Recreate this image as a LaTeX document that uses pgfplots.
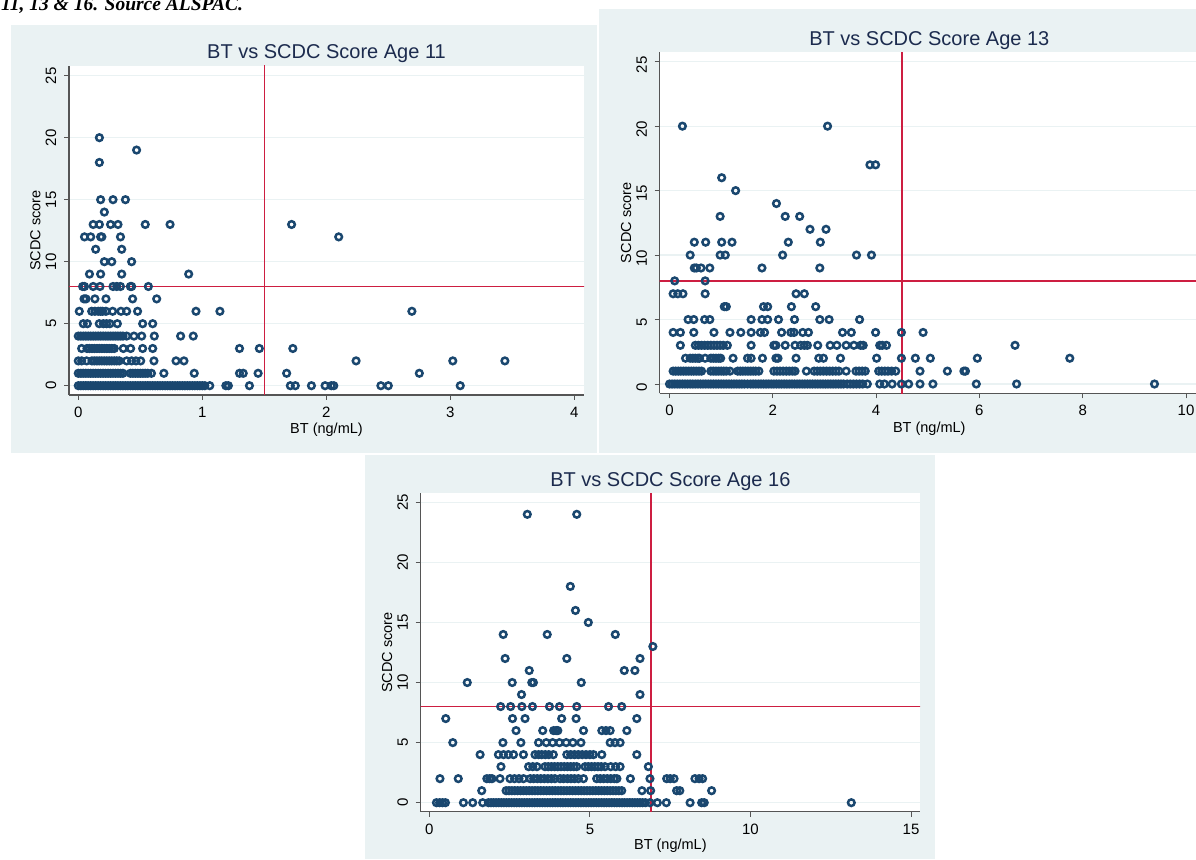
\documentclass[border=0pt]{standalone}
\usepackage{pgfplots}
\pgfplotsset{compat=1.18}
\usepackage{fontspec}
\setmainfont{Liberation Sans}
\newfontfamily\capserif{Liberation Serif}
\definecolor{bgc}{RGB}{234,242,243}
\definecolor{gridc}{RGB}{234,242,243}
\definecolor{navy}{RGB}{26,71,111}
\definecolor{ttl}{RGB}{28,43,78}
\definecolor{refred}{RGB}{205,30,65}
\definecolor{axc}{RGB}{85,85,85}
\newcommand\tickfont{\fontsize{15}{18}\selectfont}
\newcommand\labelfont{\fontsize{14.5}{17}\selectfont}
\newcommand\titlefont{\fontsize{20}{24}\selectfont}
\pgfplotsset{
  stata/.style={
    scale only axis, anchor=south west,
    axis lines*=left,
    axis line style={draw=axc, line width=1.2pt},
    axis background/.style={fill=white},
    tick align=outside, major tick length=5pt,
    tick style={draw=axc, line width=1pt},
    ytick={0,5,10,15,20,25},
    ymajorgrids, grid style={draw=gridc, line width=1.2pt},
    /pgf/number format/assume math mode=true,
    yticklabel style={xshift=-7.5pt, rotate=90, anchor=south, font=\tickfont, inner sep=0pt},
    xticklabel style={yshift=-7pt, anchor=north, font=\tickfont, inner sep=0pt},
    every axis title/.style={font=\titlefont, color=ttl, at={(axis description cs:0.5,1)}, anchor=base, yshift=7pt},
    xlabel={BT (ng/mL)}, ylabel={SCDC score},
    every axis x label/.style={at={(axis description cs:0.5,0)}, anchor=base, yshift=-39pt, font=\labelfont},
    every axis y label/.style={at={([xshift=-33.5pt]axis description cs:0,0.5)}, rotate=90, anchor=center, font=\labelfont},
    clip=true,
  },
  pts/.style={only marks, mark=o, mark size=3.3pt, mark options={draw=navy, line width=2.5pt}},
  refl/.style={draw=refred, line width=1.3pt, forget plot},
}
\begin{document}
\begin{tikzpicture}[x=1pt,y=1pt]
\useasboundingbox (0,0) rectangle (1196,859);
\clip (0,0) rectangle (1196,859);
\fill[bgc] (11,406) rectangle (597,834);
\fill[bgc] (599,406) rectangle (1200,849.7);
\fill[bgc] (365,0) rectangle (935,404);
\node[anchor=base west, inner sep=0pt, font=\capserif\bfseries\itshape\fontsize{19.5}{22}\selectfont] at (1,848) {11, 13 \& 16. Source ALSPAC.};

% ---------------- Age 11 ----------------
\begin{axis}[stata, at={(69pt,464pt)}, width=515pt, height=329pt,
  xmin=-0.075, xmax=4.078, ymin=-0.75, ymax=25.78, xtick={0,1,2,3,4},
  title={BT vs SCDC Score Age 11}]
\addplot[refl] coordinates {(1.5,-2) (1.5,30)};
\addplot[refl] coordinates {(-1,8) (5,8)};
\addplot[pts] coordinates {
(0.17,20) (0.47,19) (0.17,18)
(0.18,15) (0.28,15) (0.38,15) (0.21,14)
(0.12,13) (0.17,13) (0.26,13) (0.32,13) (0.54,13) (0.74,13) (1.72,13)
(0.05,12) (0.10,12) (0.18,12) (0.19,12) (0.34,12) (2.10,12)
(0.14,11) (0.35,11)
(0.21,10) (0.27,10) (0.43,10)
(0.09,9) (0.18,9) (0.35,9) (0.89,9)
(0.035,8) (0.05,8) (0.12,8) (0.175,8) (0.28,8) (0.31,8) (0.34,8) (0.42,8) (0.43,8) (0.565,8)
(0.046,7) (0.062,7) (0.134,7) (0.223,7) (0.438,7) (0.632,7)
(0.008,6) (0.108,6) (0.134,6) (0.161,6) (0.18,6) (0.196,6) (0.223,6) (0.277,6) (0.344,6) (0.39,6) (0.478,6) (0.949,6) (1.142,6) (2.69,6)
(0.04,5) (0.073,5) (0.169,5) (0.202,5) (0.228,5) (0.255,5) (0.315,5) (0.519,5) (0.60,5)
(0,4) (0.02,4) (0.04,4) (0.06,4) (0.08,4) (0.10,4) (0.12,4) (0.14,4) (0.16,4) (0.18,4) (0.20,4) (0.22,4) (0.24,4) (0.26,4) (0.28,4) (0.30,4) (0.32,4) (0.34,4) (0.36,4) (0.39,4) (0.449,4) (0.511,4) (0.613,4) (0.825,4) (0.927,4)
(0.027,3) (0.07,3) (0.09,3) (0.11,3) (0.13,3) (0.15,3) (0.17,3) (0.19,3) (0.21,3) (0.23,3) (0.25,3) (0.27,3) (0.29,3) (0.363,3) (0.422,3) (0.519,3) (0.60,3) (1.30,3) (1.46,3) (1.73,3)
(0,2) (0.027,2) (0.067,2) (0.11,2) (0.13,2) (0.15,2) (0.17,2) (0.19,2) (0.21,2) (0.23,2) (0.25,2) (0.27,2) (0.29,2) (0.31,2) (0.33,2) (0.39,2) (0.43,2) (0.465,2) (0.503,2) (0.61,2) (0.788,2) (0.852,2) (2.24,2) (3.02,2) (3.44,2)
(0,1) (0.02,1) (0.04,1) (0.06,1) (0.08,1) (0.10,1) (0.12,1) (0.14,1) (0.16,1) (0.18,1) (0.20,1) (0.22,1) (0.24,1) (0.26,1) (0.28,1) (0.30,1) (0.32,1) (0.34,1) (0.36,1)
(0.42,1) (0.44,1) (0.46,1) (0.48,1) (0.50,1) (0.52,1) (0.54,1) (0.56,1) (0.59,1) (0.69,1) (0.935,1) (1.30,1) (1.33,1) (1.45,1) (1.68,1) (2.75,1)
(0,0) (0.02,0) (0.04,0) (0.06,0) (0.08,0) (0.10,0) (0.12,0) (0.14,0) (0.16,0) (0.18,0) (0.20,0) (0.22,0) (0.24,0) (0.26,0) (0.28,0) (0.30,0) (0.32,0) (0.34,0) (0.36,0) (0.38,0)
(0.40,0) (0.42,0) (0.44,0) (0.46,0) (0.48,0) (0.50,0) (0.52,0) (0.54,0) (0.56,0) (0.58,0) (0.60,0) (0.62,0) (0.64,0) (0.66,0) (0.68,0) (0.70,0) (0.72,0) (0.74,0) (0.76,0) (0.78,0)
(0.80,0) (0.82,0) (0.84,0) (0.86,0) (0.88,0) (0.90,0) (0.92,0) (0.94,0) (0.96,0) (0.98,0) (1.00,0) (1.02,0)
(1.06,0) (1.19,0) (1.21,0) (1.38,0) (1.71,0) (1.75,0) (1.88,0) (1.99,0) (2.04,0) (2.06,0) (2.44,0) (2.50,0) (3.08,0)
};
\end{axis}

% ---------------- Age 13 ----------------
\begin{axis}[stata, at={(659.7pt,465.7pt)}, width=539.2pt, height=341pt,
  xmin=-0.19, xmax=10.25, ymin=-0.72, ymax=25.73, xtick={0,2,4,6,8,10},
  title={BT vs SCDC Score Age 13},
  every axis x label/.append style={yshift=-0.5pt},
  yticklabel style={xshift=-3pt}]
\addplot[refl] coordinates {(4.5,-2) (4.5,30)};
\addplot[refl] coordinates {(-1,8) (12,8)};
\addplot[pts] coordinates {
(0.25,20) (3.06,20) (3.88,17) (3.99,17) (1.01,16) (1.28,15) (2.07,14)
(0.98,13) (2.24,13) (2.52,13) (2.72,12) (3.03,12)
(0.48,11) (0.70,11) (1.01,11) (1.21,11) (2.30,11) (2.92,11)
(0.40,10) (0.98,10) (1.08,10) (2.19,10) (3.62,10) (3.91,10)
(0.48,9) (0.52,9) (0.61,9) (0.78,9) (1.79,9) (2.91,9)
(0.10,8) (0.69,8)
(0.07,7) (0.16,7) (0.26,7) (0.69,7) (2.45,7) (2.61,7)
(1.06,6) (1.10,6) (1.82,6) (1.90,6) (2.36,6) (2.83,6)
(0.36,5) (0.47,5) (0.68,5) (0.78,5) (1.58,5) (1.79,5) (1.90,5) (2.11,5) (2.42,5) (2.91,5) (3.09,5) (3.68,5)
(0.07,4) (0.21,4) (0.47,4) (0.86,4) (1.17,4) (1.38,4) (1.58,4) (1.76,4) (1.84,4) (2.17,4) (2.35,4) (2.41,4) (2.58,4) (2.69,4) (3.35,4) (3.52,4) (3.99,4) (4.49,4) (4.91,4)
(0.21,3) (0.50,3) (0.56,3) (0.62,3) (0.68,3) (0.74,3) (0.80,3) (0.86,3) (0.92,3) (0.98,3) (1.04,3) (1.12,3) (1.58,3) (2.02,3) (2.06,3) (2.24,3) (2.43,3) (2.54,3) (2.61,3) (2.67,3) (2.87,3) (3.11,3) (3.24,3) (3.42,3) (3.57,3) (3.70,3) (3.75,3) (4.07,3) (4.12,3) (4.20,3) (6.69,3)
(0.31,2) (0.40,2) (0.45,2) (0.50,2) (0.55,2) (0.58,2) (0.69,2) (0.80,2) (0.85,2) (0.90,2) (0.95,2) (0.99,2) (1.23,2) (1.51,2) (1.58,2) (1.80,2) (2.06,2) (2.10,2) (2.45,2) (2.89,2) (2.98,2) (3.31,2) (4.01,2) (4.49,2) (4.76,2) (5.05,2) (5.96,2) (7.75,2)
(0.07,1) (0.12,1) (0.17,1) (0.22,1) (0.27,1) (0.32,1) (0.37,1) (0.42,1) (0.47,1) (0.52,1) (0.57,1) (0.62,1)
(0.80,1) (0.85,1) (0.90,1) (0.95,1) (1.00,1) (1.05,1) (1.10,1) (1.17,1)
(1.32,1) (1.37,1) (1.42,1) (1.47,1) (1.52,1) (1.57,1) (1.62,1) (1.67,1) (1.73,1)
(2.02,1) (2.08,1) (2.14,1) (2.20,1) (2.26,1) (2.32,1) (2.38,1) (2.43,1) (2.65,1)
(2.80,1) (2.86,1) (2.92,1) (2.98,1) (3.04,1) (3.10,1) (3.16,1) (3.22,1) (3.28,1) (3.42,1)
(3.61,1) (3.67,1) (3.73,1) (3.79,1) (4.05,1) (4.11,1) (4.17,1) (4.23,1) (4.30,1) (4.38,1) (4.85,1) (5.38,1) (5.70,1) (5.73,1)
(0,0) (0.05,0) (0.10,0) (0.15,0) (0.20,0) (0.25,0) (0.30,0) (0.35,0) (0.40,0) (0.45,0) (0.50,0) (0.55,0) (0.60,0) (0.65,0) (0.70,0) (0.75,0) (0.80,0) (0.85,0) (0.90,0) (0.95,0)
(1.00,0) (1.05,0) (1.10,0) (1.15,0) (1.20,0) (1.25,0) (1.30,0) (1.35,0) (1.40,0) (1.45,0) (1.51,0) (1.57,0) (1.62,0) (1.67,0) (1.72,0) (1.77,0) (1.82,0) (1.87,0) (1.92,0) (1.97,0)
(2.02,0) (2.07,0) (2.12,0) (2.17,0) (2.22,0) (2.27,0) (2.32,0) (2.37,0) (2.42,0) (2.47,0) (2.52,0) (2.57,0) (2.62,0) (2.67,0) (2.72,0) (2.77,0) (2.82,0) (2.87,0) (2.92,0) (2.97,0)
(3.02,0) (3.07,0) (3.12,0) (3.17,0) (3.22,0) (3.27,0) (3.32,0) (3.37,0) (3.44,0) (3.50,0) (3.56,0) (3.62,0) (3.68,0) (3.74,0) (3.83,0)
(4.07,0) (4.16,0) (4.31,0) (4.49,0) (4.63,0) (4.85,0) (5.10,0) (5.94,0) (6.72,0) (9.39,0)
};
\end{axis}

% ---------------- Age 16 ----------------
\begin{axis}[stata, at={(420.7pt,47.3pt)}, width=499.3pt, height=318.4pt,
  xmin=-0.27, xmax=15.28, ymin=-0.75, ymax=25.75, xtick={0,5,10,15},
  title={BT vs SCDC Score Age 16},
  every axis x label/.append style={yshift=1.5pt}]
\addplot[refl] coordinates {(6.9,-2) (6.9,30)};
\addplot[refl] coordinates {(-1,8) (16,8)};
\addplot[pts] coordinates {
(3.05,24) (4.59,24) (4.39,18) (4.55,16) (4.95,15)
(2.30,14) (3.67,14) (5.79,14) (6.96,13)
(2.36,12) (4.28,12) (6.56,12) (3.11,11) (6.07,11) (6.40,11)
(1.18,10) (2.58,10) (3.19,10) (3.24,10) (4.73,10) (2.87,9) (6.56,9)
(2.22,8) (2.53,8) (2.88,8) (3.21,8) (3.74,8) (4.05,8) (4.59,8) (5.58,8) (5.99,8)
(0.51,7) (2.59,7) (2.98,7) (4.12,7) (4.57,7) (6.46,7)
(2.70,6) (3.53,6) (3.87,6) (3.95,6) (4.00,6) (4.80,6) (5.37,6) (5.50,6) (5.63,6) (6.15,6)
(0.73,5) (2.29,5) (2.85,5) (3.40,5) (3.64,5) (3.84,5) (4.05,5) (4.26,5) (4.47,5) (4.72,5) (5.63,5) (5.78,5) (5.94,5)
(1.58,4) (2.15,4) (2.31,4) (2.46,4) (2.62,4) (2.93,4) (3.29,4) (3.40,4) (3.50,4) (3.61,4) (3.72,4) (3.86,4) (4.28,4) (4.40,4) (4.52,4) (4.64,4) (4.76,4) (4.88,4) (5.00,4) (5.11,4) (5.37,4) (6.46,4)
(2.23,3) (3.09,3) (3.22,3) (3.35,3) (3.60,3) (3.70,3) (3.80,3) (3.90,3) (4.00,3) (4.10,3) (4.20,3) (4.30,3) (4.40,3) (4.50,3) (4.59,3) (4.85,3) (4.95,3) (5.05,3) (5.15,3) (5.25,3) (5.35,3) (5.47,3) (5.65,3) (5.80,3) (5.94,3) (6.82,3)
(0.33,2) (0.90,2) (1.79,2) (1.88,2) (1.95,2) (2.20,2) (2.51,2) (2.65,2) (2.79,2) (2.93,2) (3.14,2) (3.25,2) (3.36,2) (3.47,2) (3.58,2) (3.69,2) (3.80,2) (3.91,2) (4.07,2) (4.18,2) (4.30,2) (4.41,2) (4.52,2) (4.64,2) (4.80,2)
(5.21,2) (5.32,2) (5.43,2) (5.54,2) (5.65,2) (5.76,2) (5.84,2) (6.26,2) (6.87,2) (7.39,2) (7.50,2) (7.62,2) (8.27,2) (8.40,2) (8.51,2)
(1.63,1) (2.39,1) (2.48,1) (2.57,1) (2.66,1) (2.75,1) (2.84,1) (2.93,1) (3.02,1) (3.11,1) (3.20,1) (3.29,1) (3.38,1) (3.47,1) (3.56,1) (3.65,1) (3.74,1) (3.83,1) (3.92,1) (4.01,1) (4.10,1)
(4.19,1) (4.28,1) (4.37,1) (4.46,1) (4.55,1) (4.64,1) (4.73,1) (4.82,1) (4.91,1) (5.00,1) (5.09,1) (5.18,1) (5.27,1) (5.36,1) (5.45,1) (5.54,1) (5.63,1) (5.72,1) (5.81,1) (5.90,1) (5.99,1)
(6.62,1) (6.89,1) (7.70,1) (7.80,1) (8.79,1)
(0.22,0) (0.32,0) (0.41,0) (0.50,0) (1.06,0) (1.35,0) (1.66,0)
(1.84,0) (1.92,0) (2.00,0) (2.08,0) (2.16,0) (2.24,0) (2.32,0) (2.40,0) (2.48,0) (2.56,0) (2.64,0) (2.72,0) (2.80,0) (2.88,0) (2.96,0) (3.04,0) (3.12,0) (3.20,0) (3.28,0) (3.36,0)
(3.44,0) (3.52,0) (3.60,0) (3.68,0) (3.76,0) (3.84,0) (3.92,0) (4.00,0) (4.08,0) (4.16,0) (4.24,0) (4.32,0) (4.40,0) (4.48,0) (4.56,0) (4.64,0) (4.72,0) (4.80,0) (4.88,0) (4.96,0)
(5.04,0) (5.12,0) (5.20,0) (5.28,0) (5.36,0) (5.44,0) (5.52,0) (5.60,0) (5.68,0) (5.76,0) (5.84,0) (5.92,0) (6.00,0) (6.08,0) (6.16,0) (6.24,0) (6.32,0) (6.40,0) (6.48,0) (6.56,0) (6.64,0) (6.73,0)
(6.87,0) (7.10,0) (7.38,0) (8.12,0) (8.48,0) (8.56,0) (13.14,0)
};
\end{axis}
\end{tikzpicture}
\end{document}
